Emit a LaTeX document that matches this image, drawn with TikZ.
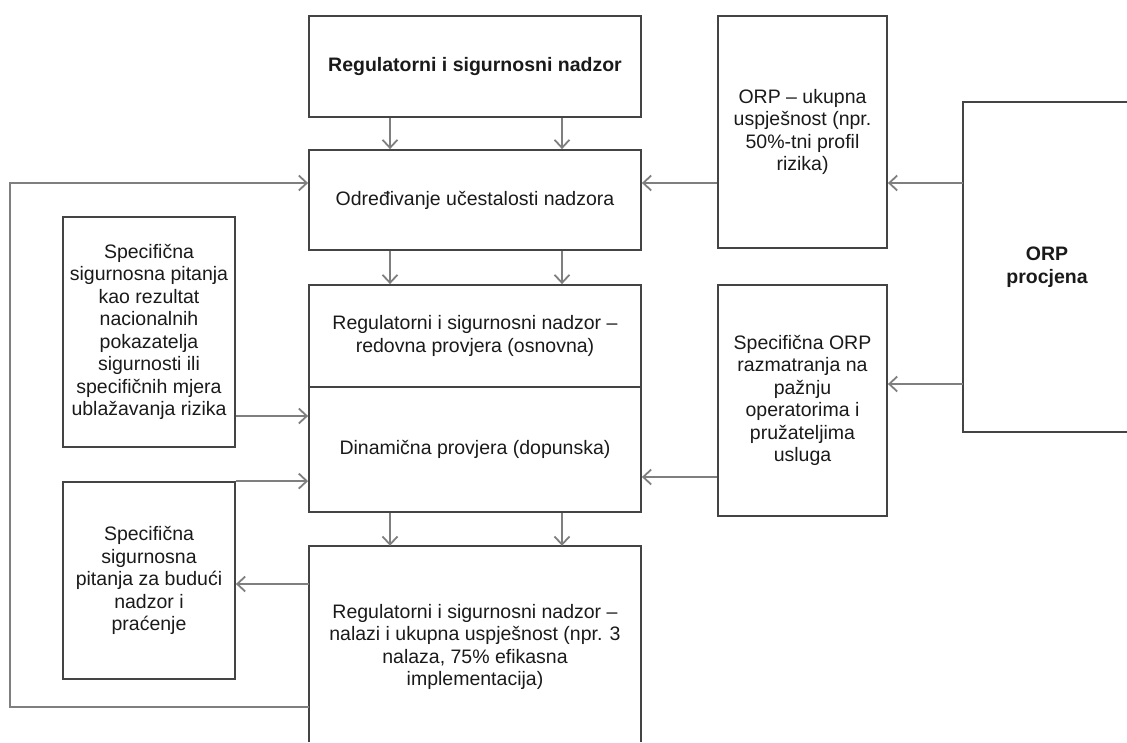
\documentclass[tikz,border=0pt]{standalone}
\usepackage{fontspec}
\setmainfont{Liberation Sans}
\usetikzlibrary{arrows.meta,calc}
\definecolor{boxc}{HTML}{444444}
\definecolor{arrc}{HTML}{7F7F7F}
\definecolor{txtc}{HTML}{1A1A1A}
\begin{document}
\begin{tikzpicture}[x=1pt,y=-1pt,
  box/.style={draw=boxc,line width=1.8pt,rectangle,inner sep=0pt,align=center,
    text=txtc,font=\fontsize{19.5}{22.5}\selectfont},
  openbox/.style={rectangle,inner sep=0pt,align=center,
    text=txtc,font=\fontsize{19.5}{22.5}\selectfont},
  side/.style={draw=boxc,line width=1.8pt},
  arr/.style={draw=arrc,line width=1.7pt,-{Straight Barb[length=8pt,width=15pt,line width=1.8pt]}},
  ln/.style={draw=arrc,line width=1.7pt}]
\useasboundingbox (0,0) rectangle (1127,742);
% main column
\node[box,minimum width=332pt,minimum height=101pt] (top) at (475,66.5) {\bfseries Regulatorni i sigurnosni nadzor};
\node[box,minimum width=332pt,minimum height=100pt] (odr) at (475,200) {Određivanje učestalosti nadzora};
\node[box,minimum width=332pt,minimum height=102pt] (red) at (475,336) {Regulatorni i sigurnosni nadzor –\\redovna provjera (osnovna)};
\node[box,minimum width=332pt,minimum height=125pt] (din) at (475,449.5) {Dinamična provjera (dopunska)};
\node[openbox,minimum width=332pt,minimum height=202pt] (bot) at (475,647) {Regulatorni i sigurnosni nadzor –\\nalazi i ukupna uspješnost (npr. 3\\nalaza, 75\% efikasna\\implementacija)};
\draw[side] (309,742) -- (309,546) -- (641,546) -- (641,742);
% left boxes
\node[box,minimum width=172pt,minimum height=230pt] (b1) at (149,332) {Specifična\\sigurnosna pitanja\\kao rezultat\\nacionalnih\\pokazatelja\\sigurnosti ili\\specifičnih mjera\\ublažavanja rizika};
\node[box,minimum width=172pt,minimum height=197pt] (b2) at (149,580.5) {Specifična\\sigurnosna\\pitanja za budući\\nadzor i\\praćenje};
% right boxes
\node[box,minimum width=169pt,minimum height=232pt] (orpu) at (802.5,132) {ORP – ukupna\\uspješnost (npr.\\50\%-tni profil\\rizika)};
\node[box,minimum width=169pt,minimum height=231pt] (orps) at (802.5,400.5) {Specifična ORP\\razmatranja na\\pažnju\\operatorima i\\pružateljima\\usluga};
\node[openbox,minimum width=168pt,minimum height=330pt] (orp) at (1047,267) {\bfseries ORP\\\bfseries procjena};
\draw[side] (1127,102) -- (963,102) -- (963,432) -- (1127,432);
% helper coordinates
\coordinate (c1) at (390,0);
\coordinate (c2) at (562,0);
\coordinate (yA) at (0,183);
\coordinate (yB) at (0,384);
\coordinate (yC) at (0,416);
\coordinate (yD) at (0,477);
\coordinate (yE) at (0,584);
\coordinate (yF) at (0,707);
\coordinate (fbB) at (10,707);
\coordinate (fbT) at (10,183);
% vertical arrows
\draw[arr] (top.south -| c1) -- (odr.north -| c1);
\draw[arr] (top.south -| c2) -- (odr.north -| c2);
\draw[arr] (odr.south -| c1) -- (red.north -| c1);
\draw[arr] (odr.south -| c2) -- (red.north -| c2);
\draw[arr] (din.south -| c1) -- (bot.north -| c1);
\draw[arr] (din.south -| c2) -- (bot.north -| c2);
% left arrows
\draw[arr] (b1.east |- yC) -- (din.west |- yC);
\draw[arr] (b2.north east) -- (din.west |- b2.north east);
\draw[arr] (bot.west |- yE) -- (b2.east |- yE);
\draw[arr] (bot.west |- yF) -- (fbB) -- (fbT) -- (odr.west |- yA);
% right arrows
\draw[arr] (orpu.west |- yA) -- (odr.east |- yA);
\draw[arr] (orp.west |- yA) -- (orpu.east |- yA);
\draw[arr] (orp.west |- yB) -- (orps.east |- yB);
\draw[arr] (orps.west |- yD) -- (din.east |- yD);
\end{tikzpicture}
\end{document}
